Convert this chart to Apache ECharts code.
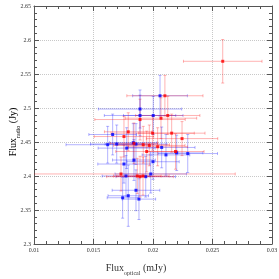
<!DOCTYPE html>
<html><head><meta charset="utf-8">
<script src="https://cdn.jsdelivr.net/npm/echarts@6/dist/echarts.min.js"></script>
<style>html,body{margin:0;padding:0;background:#fff}#c{width:279px;height:279px}</style>
</head><body><div id="c"></div>
<script>
const xTicks = ['0.01','0.015','0.02','0.025','0.03'];
const yTicks = ['2.3','2.35','2.4','2.45','2.5','2.55','2.6','2.65'];

const redX    = [0.02586,0.0210,0.02124,0.02067,0.01891,0.01792,0.01756,0.01997,0.02157,0.02244,0.0184,0.01918,0.01969,0.02039,0.02189,0.01947,0.01731,0.01868,0.01891,0.01916];
const redY    = [2.5687,2.518,2.489,2.485,2.483,2.465,2.458,2.463,2.463,2.455,2.448,2.446,2.445,2.443,2.436,2.436,2.403,2.400,2.399,2.400];
const redXErr = [0.0033,0.0032,0.0027,0.0030,0.0038,0.0020,0.0025,0.0035,0.0028,0.0030,0.0020,0.0022,0.0030,0.0025,0.0024,0.0026,0.0096,0.0020,0.0028,0.0022];
const redYErr = [0.032,0.030,0.028,0.030,0.030,0.028,0.030,0.025,0.028,0.025,0.030,0.027,0.030,0.028,0.026,0.030,0.025,0.026,0.030,0.028];

const blueX    = [0.02059,0.01891,0.01891,0.02002,0.01661,0.01619,0.01695,0.01779,0.01834,0.01857,0.02073,0.02199,0.02292,0.02109,0.0184,0.01756,0.0200,0.01773,0.01981,0.01939,0.01857,0.01792,0.01745,0.01882];
const blueY    = [2.518,2.4985,2.489,2.489,2.461,2.446,2.447,2.441,2.449,2.447,2.442,2.434,2.433,2.431,2.4235,2.4176,2.421,2.400,2.403,2.399,2.379,2.371,2.368,2.366];
const blueXErr = [0.0023,0.0035,0.0030,0.0025,0.0020,0.0035,0.0022,0.0024,0.0020,0.0026,0.0028,0.0022,0.0025,0.0020,0.0018,0.0022,0.0022,0.0020,0.0030,0.0025,0.0020,0.0017,0.0013,0.0014];
const blueYErr = [0.030,0.028,0.030,0.028,0.030,0.027,0.028,0.030,0.028,0.030,0.030,0.026,0.028,0.030,0.030,0.028,0.026,0.030,0.028,0.030,0.030,0.045,0.030,0.030];

function rows(xs, ys, ex, ey){ return xs.map((x,i)=>[x, ys[i], ex[i], ey[i]]); }

function errRender(color){
  return function(params, api){
    const cs = params.coordSys;
    const x = api.value(0), y = api.value(1), ex = api.value(2), ey = api.value(3);
    const clampX = v => Math.max(cs.x, Math.min(cs.x + cs.width, v));
    const clampY = v => Math.max(cs.y, Math.min(cs.y + cs.height, v));
    const c = api.coord([x, y]);
    const l = api.coord([x - ex, y]), r = api.coord([x + ex, y]);
    const t = api.coord([x, y + ey]), b = api.coord([x, y - ey]);
    const st = {stroke: color, lineWidth: 1};
    const cap = 1.5;
    const ch = [
      {type:'line', shape:{x1:clampX(l[0]), y1:c[1], x2:clampX(r[0]), y2:c[1]}, style:st},
      {type:'line', shape:{x1:c[0], y1:clampY(t[1]), x2:c[0], y2:clampY(b[1])}, style:st},
      {type:'line', shape:{x1:c[0]-cap, y1:t[1], x2:c[0]+cap, y2:t[1]}, style:st},
      {type:'line', shape:{x1:c[0]-cap, y1:b[1], x2:c[0]+cap, y2:b[1]}, style:st}
    ];
    if (l[0] >= cs.x) ch.push({type:'line', shape:{x1:l[0], y1:c[1]-cap, x2:l[0], y2:c[1]+cap}, style:st});
    if (r[0] <= cs.x + cs.width) ch.push({type:'line', shape:{x1:r[0], y1:c[1]-cap, x2:r[0], y2:c[1]+cap}, style:st});
    return {type:'group', children: ch};
  };
}

const serif = 'Liberation Serif';
const axisLine = {show:true, lineStyle:{color:'#555', width:1}};
const titleRich = {
  a:{fontFamily:serif, fontSize:10, color:'#333', lineHeight:14, verticalAlign:'bottom'},
  b:{fontFamily:serif, fontSize:6, color:'#333', lineHeight:14, verticalAlign:'bottom', padding:[0,0,-3,0]}
};
const chart = echarts.init(document.getElementById('c'), null, {renderer:'canvas'});
const xFmt = v => { const s = xTicks.find(t => Math.abs(parseFloat(t) - v) < 1e-9); return s || ''; };
const yFmt = v => { const s = yTicks.find(t => Math.abs(parseFloat(t) - v) < 1e-9); return s || ''; };

chart.setOption({
  animation:false,
  grid:{left:34, right:7, top:6, bottom:35, containLabel:false, outerBoundsMode:'none'},
  graphic:[{
    type:'text', x:11, y:132, rotation:Math.PI/2,
    style:{text:'{a|Flux}{b|radio}{a| (Jy)}', rich:titleRich, align:'center', verticalAlign:'middle'}
  }],
  xAxis:[{
    type:'value', min:0.01, max:0.03, interval:0.005, position:'bottom',
    axisLine, axisTick:{show:true, inside:true, length:5, lineStyle:{color:'#555'}},
    minorTick:{show:true, splitNumber:5, length:3, lineStyle:{color:'#555'}},
    axisLabel:{formatter:xFmt, fontFamily:serif, fontSize:6, color:'#333', margin:3},
    splitLine:{show:true, lineStyle:{color:'#c8c8c8', type:'dotted', width:1}},
    name:'{a|Flux}{b|optical}{a| (mJy)}', nameLocation:'middle', nameGap:15,
    nameTextStyle:{padding:[0,34,0,0], rich:titleRich}
  },{
    type:'value', min:0.01, max:0.03, interval:0.005, position:'top',
    axisLine, axisTick:{show:true, inside:true, length:5, lineStyle:{color:'#555'}},
    minorTick:{show:true, splitNumber:5, length:3, lineStyle:{color:'#555'}},
    axisLabel:{show:false}, splitLine:{show:false}
  }],
  yAxis:[{
    type:'value', min:2.3, max:2.65, interval:0.05, position:'left',
    axisLine, axisTick:{show:true, inside:true, length:5, lineStyle:{color:'#555'}},
    minorTick:{show:true, splitNumber:5, length:3, lineStyle:{color:'#555'}},
    axisLabel:{formatter:yFmt, fontFamily:serif, fontSize:6, color:'#333', margin:3},
    splitLine:{show:true, lineStyle:{color:'#c8c8c8', type:'dotted', width:1}}
  },{
    type:'value', min:2.3, max:2.65, interval:0.05, position:'right',
    axisLine, axisTick:{show:true, inside:true, length:5, lineStyle:{color:'#555'}},
    minorTick:{show:true, splitNumber:5, length:3, lineStyle:{color:'#555'}},
    axisLabel:{show:false}, splitLine:{show:false}
  }],
  series:[
    {type:'custom', renderItem:errRender('rgba(0,0,255,0.3)'), data:rows(blueX,blueY,blueXErr,blueYErr), encode:{x:0,y:1}, z:2},
    {type:'custom', renderItem:errRender('rgba(255,0,0,0.3)'), data:rows(redX,redY,redXErr,redYErr), encode:{x:0,y:1}, z:2},
    {type:'scatter', symbol:'rect', symbolSize:3, itemStyle:{color:'#0000ff'}, data:blueX.map((x,i)=>[x,blueY[i]]), z:3},
    {type:'scatter', symbol:'rect', symbolSize:3, itemStyle:{color:'#ff0000'}, data:redX.map((x,i)=>[x,redY[i]]), z:3}
  ]
});
</script></body></html>
